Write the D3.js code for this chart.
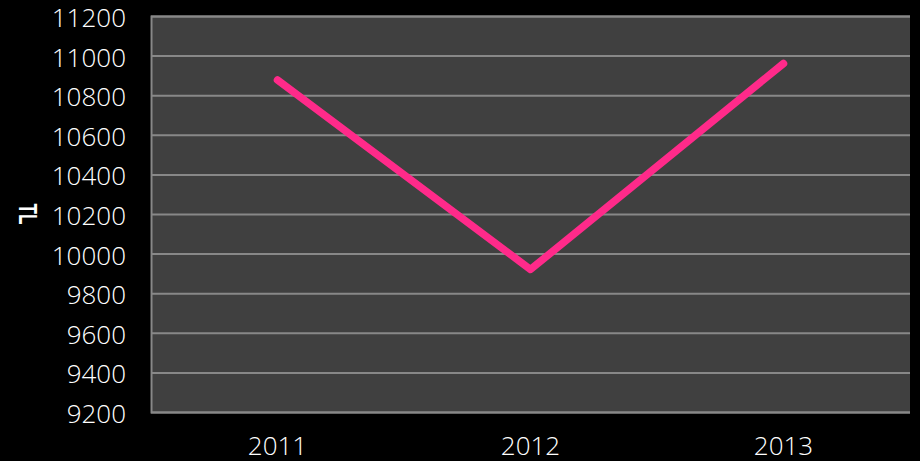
<!DOCTYPE html>
<html><head><meta charset="utf-8">
<script src="https://cdn.jsdelivr.net/npm/d3@7"></script>
<style>html,body{margin:0;padding:0;background:#000;}</style>
</head><body>
<svg id="c" width="920" height="461"></svg>
<script>
const categories = ["2011", "2012", "2013"];
const values = [10877, 9920, 10960];
const yTicks = [9200, 9400, 9600, 9800, 10000, 10200, 10400, 10600, 10800, 11000, 11200];
const yLabel = "TL";

const svg = d3.select("#c");
const m = {left: 151, right: 10, top: 16, bottom: 49};
const W = 920, H = 461;
const x = d3.scaleBand().domain(categories).range([m.left, W - m.right]);
const y = d3.scaleLinear().domain([9200, 11200]).range([H - m.bottom, m.top]);

svg.append("rect").attr("width", W).attr("height", H).attr("fill", "#000");
svg.append("rect").attr("x", m.left).attr("y", m.top)
  .attr("width", W - m.right - m.left).attr("height", H - m.bottom - m.top)
  .attr("fill", "#404040");

const font = "'Century Gothic', 'Open Sans', 'Liberation Sans', sans-serif";

const ya = svg.append("g").attr("transform", `translate(${m.left},0)`)
  .call(d3.axisLeft(y).tickValues(yTicks).tickSize(-(W - m.right - m.left)).tickPadding(25).tickFormat(d3.format("d")));
ya.select(".domain").attr("stroke", "#888").attr("stroke-width", 2);
ya.selectAll(".tick line").attr("stroke", "#888").attr("stroke-width", 2);
ya.selectAll(".tick text").attr("fill", "#fff").attr("font-size", 26).attr("font-weight", 300)
  .attr("font-family", font).attr("dy", "0.4em");

const xa = svg.append("g").attr("transform", `translate(0,${H - m.bottom})`)
  .call(d3.axisBottom(x).tickSize(0).tickPadding(23));
xa.select(".domain").remove();
xa.selectAll(".tick text").attr("fill", "#fff").attr("font-size", 26).attr("font-weight", 300)
  .attr("font-family", font).attr("y", 43).attr("dy", 0);

svg.append("text").attr("transform", `translate(19,214) rotate(90) scale(0.66,1)`)
  .attr("text-anchor", "middle").attr("fill", "#fff").attr("font-weight", "bold")
  .attr("font-size", 26).attr("font-family", "'Liberation Sans', sans-serif").text(yLabel);

const line = d3.line().x((d, i) => x(categories[i]) + x.bandwidth() / 2).y(d => y(d));
svg.append("path").datum(values).attr("d", line)
  .attr("fill", "none").attr("stroke", "#FF2A8A").attr("stroke-width", 7.5)
  .attr("stroke-linecap", "round").attr("stroke-linejoin", "round");
</script>
</body></html>
